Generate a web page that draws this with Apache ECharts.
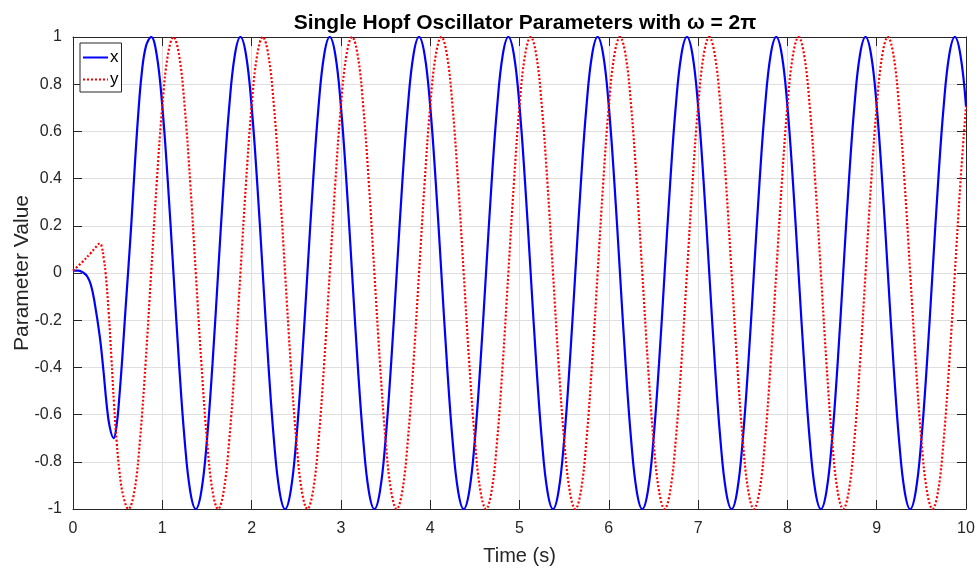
<!DOCTYPE html>
<html><head><meta charset="utf-8">
<script src="https://cdn.jsdelivr.net/npm/echarts@6/dist/echarts.min.js"></script>
<style>html,body{margin:0;padding:0;background:#fff}#c{width:980px;height:570px}</style>
</head><body><div id="c"></div>
<script>
// ---- data ----
const seriesNames = ['x', 'y'];
const xTicks = [0,1,2,3,4,5,6,7,8,9,10];
const yTicks = [-1,-0.8,-0.6,-0.4,-0.2,0,0.2,0.4,0.6,0.8,1];

// start-up transient of x
const xTransTime = [0,0.06,0.12,0.16,0.2,0.24,0.3,0.34,0.375,0.41,0.455,0.49,0.52,0.55,0.585,0.62,0.655,0.693,0.73,0.768,0.816];
const xTransVal  = [0.01,0.01,0.0,-0.015,-0.05,-0.12,-0.27,-0.41,-0.55,-0.65,-0.70,-0.64,-0.52,-0.37,-0.17,0.02,0.22,0.46,0.67,0.84,0.96];

// start-up transient of y
const yTransTime = [0,0.1,0.2,0.25,0.3,0.32,0.345,0.365,0.4,0.43,0.46,0.49,0.52,0.56,0.62,0.6875,0.75,0.8125];
const yTransVal  = [0.01,0.045,0.085,0.107,0.125,0.115,0.06,0,-0.17,-0.36,-0.56,-0.72,-0.84,-0.94,-1,-0.924,-0.707,-0.383];

// steady oscillation, read every 1/16 s
const steadyTime = [
0.875,0.9375,1,1.0625,1.125,1.1875,1.25,1.3125,1.375,1.4375,1.5,1.5625,1.625,1.6875,1.75,1.8125,
1.875,1.9375,2,2.0625,2.125,2.1875,2.25,2.3125,2.375,2.4375,2.5,2.5625,2.625,2.6875,2.75,2.8125,
2.875,2.9375,3,3.0625,3.125,3.1875,3.25,3.3125,3.375,3.4375,3.5,3.5625,3.625,3.6875,3.75,3.8125,
3.875,3.9375,4,4.0625,4.125,4.1875,4.25,4.3125,4.375,4.4375,4.5,4.5625,4.625,4.6875,4.75,4.8125,
4.875,4.9375,5,5.0625,5.125,5.1875,5.25,5.3125,5.375,5.4375,5.5,5.5625,5.625,5.6875,5.75,5.8125,
5.875,5.9375,6,6.0625,6.125,6.1875,6.25,6.3125,6.375,6.4375,6.5,6.5625,6.625,6.6875,6.75,6.8125,
6.875,6.9375,7,7.0625,7.125,7.1875,7.25,7.3125,7.375,7.4375,7.5,7.5625,7.625,7.6875,7.75,7.8125,
7.875,7.9375,8,8.0625,8.125,8.1875,8.25,8.3125,8.375,8.4375,8.5,8.5625,8.625,8.6875,8.75,8.8125,
8.875,8.9375,9,9.0625,9.125,9.1875,9.25,9.3125,9.375,9.4375,9.5,9.5625,9.625,9.6875,9.75,9.8125,
9.875,9.9375,10];
const xSteady = [
1,0.924,0.707,0.383,0,-0.383,-0.707,-0.924,-1,-0.924,-0.707,-0.383,0,0.383,0.707,0.924,
1,0.924,0.707,0.383,0,-0.383,-0.707,-0.924,-1,-0.924,-0.707,-0.383,0,0.383,0.707,0.924,
1,0.924,0.707,0.383,0,-0.383,-0.707,-0.924,-1,-0.924,-0.707,-0.383,0,0.383,0.707,0.924,
1,0.924,0.707,0.383,0,-0.383,-0.707,-0.924,-1,-0.924,-0.707,-0.383,0,0.383,0.707,0.924,
1,0.924,0.707,0.383,0,-0.383,-0.707,-0.924,-1,-0.924,-0.707,-0.383,0,0.383,0.707,0.924,
1,0.924,0.707,0.383,0,-0.383,-0.707,-0.924,-1,-0.924,-0.707,-0.383,0,0.383,0.707,0.924,
1,0.924,0.707,0.383,0,-0.383,-0.707,-0.924,-1,-0.924,-0.707,-0.383,0,0.383,0.707,0.924,
1,0.924,0.707,0.383,0,-0.383,-0.707,-0.924,-1,-0.924,-0.707,-0.383,0,0.383,0.707,0.924,
1,0.924,0.707,0.383,0,-0.383,-0.707,-0.924,-1,-0.924,-0.707,-0.383,0,0.383,0.707,0.924,
1,0.924,0.707];
const ySteady = [
0,0.383,0.707,0.924,1,0.924,0.707,0.383,0,-0.383,-0.707,-0.924,-1,-0.924,-0.707,-0.383,
0,0.383,0.707,0.924,1,0.924,0.707,0.383,0,-0.383,-0.707,-0.924,-1,-0.924,-0.707,-0.383,
0,0.383,0.707,0.924,1,0.924,0.707,0.383,0,-0.383,-0.707,-0.924,-1,-0.924,-0.707,-0.383,
0,0.383,0.707,0.924,1,0.924,0.707,0.383,0,-0.383,-0.707,-0.924,-1,-0.924,-0.707,-0.383,
0,0.383,0.707,0.924,1,0.924,0.707,0.383,0,-0.383,-0.707,-0.924,-1,-0.924,-0.707,-0.383,
0,0.383,0.707,0.924,1,0.924,0.707,0.383,0,-0.383,-0.707,-0.924,-1,-0.924,-0.707,-0.383,
0,0.383,0.707,0.924,1,0.924,0.707,0.383,0,-0.383,-0.707,-0.924,-1,-0.924,-0.707,-0.383,
0,0.383,0.707,0.924,1,0.924,0.707,0.383,0,-0.383,-0.707,-0.924,-1,-0.924,-0.707,-0.383,
0,0.383,0.707,0.924,1,0.924,0.707,0.383,0,-0.383,-0.707,-0.924,-1,-0.924,-0.707,-0.383,
0,0.383,0.707];

// ---- build chart ----
const pair = (ts, vs) => ts.map((t, i) => [t, vs[i]]);
const xData = pair(xTransTime, xTransVal).concat(pair(steadyTime, xSteady));
const yData = pair(yTransTime, yTransVal).concat(pair(steadyTime, ySteady));

const FONT = '"Liberation Sans", Arial, Helvetica, sans-serif';
const AX = '#262626';
const chart = echarts.init(document.getElementById('c'), null, {renderer: 'canvas'});

const frameAxis = (extra) => Object.assign({
  type: 'value',
  axisLine: {show: true, onZero: false, lineStyle: {color: AX, width: 1}},
  axisTick: {show: true, inside: true, length: 9, lineStyle: {color: AX, width: 1}},
  axisLabel: {show: false},
  splitLine: {show: false}
}, extra);

chart.setOption({
  animation: false,
  backgroundColor: '#fff',
  textStyle: {fontFamily: FONT},
  title: {
    text: 'Single Hopf Oscillator Parameters with ω = 2π',
    left: 520, top: 8, textAlign: 'center',
    textStyle: {fontFamily: FONT, fontSize: 21, fontWeight: 'bold', color: '#000'}
  },
  legend: {
    data: seriesNames,
    orient: 'vertical', left: 80, top: 43,
    itemWidth: 25, itemHeight: 14, itemGap: 5,
    padding: [6, 3, 4, 2],
    backgroundColor: '#fff', borderColor: AX, borderWidth: 1, borderRadius: 0,
    itemStyle: {opacity: 0, borderWidth: 0},
    textStyle: {fontFamily: FONT, fontSize: 17, color: '#000', padding: [0, 0, 0, -3]}
  },
  grid: {left: 73, right: 14, top: 37, bottom: 61, containLabel: false, outerBoundsMode: 'none'},
  xAxis: [
    {
      type: 'value', min: xTicks[0], max: xTicks[xTicks.length - 1], interval: 1,
      name: 'Time (s)', nameLocation: 'middle', nameGap: 37, nameMoveOverlap: false,
      nameTextStyle: {fontFamily: FONT, fontSize: 20, color: AX},
      axisLine: {show: true, onZero: false, lineStyle: {color: AX, width: 1}},
      axisTick: {show: true, inside: true, length: 9, lineStyle: {color: AX}},
      axisLabel: {fontFamily: FONT, fontSize: 16, color: AX, margin: 12},
      splitLine: {show: true, lineStyle: {color: '#dfdfdf', width: 1}}
    },
    frameAxis({position: 'top', min: 0, max: 10, interval: 1})
  ],
  yAxis: [
    {
      type: 'value', min: yTicks[0], max: yTicks[yTicks.length - 1], interval: 0.2,
      name: 'Parameter Value', nameLocation: 'middle', nameGap: 40, nameRotate: 90, nameMoveOverlap: false,
      nameTextStyle: {fontFamily: FONT, fontSize: 21, color: AX},
      axisLine: {show: true, onZero: false, lineStyle: {color: AX, width: 1}},
      axisTick: {show: true, inside: true, length: 9, lineStyle: {color: AX}},
      axisLabel: {fontFamily: FONT, fontSize: 16, color: AX, margin: 11},
      splitLine: {show: true, lineStyle: {color: '#dfdfdf', width: 1}}
    },
    frameAxis({position: 'right', min: -1, max: 1, interval: 0.2})
  ],
  series: [
    {
      name: seriesNames[0], type: 'line', data: xData,
      symbol: 'none', smooth: 0.4, clip: true,
      lineStyle: {color: '#0000ff', width: 2.2, type: 'solid'},
      itemStyle: {color: '#0000ff'}
    },
    {
      name: seriesNames[1], type: 'line', data: yData,
      symbol: 'none', smooth: 0.4, clip: true,
      lineStyle: {color: '#ff0000', width: 2.2, type: [2, 2]},
      itemStyle: {color: '#ff0000'}
    }
  ]
});
</script>
</body></html>
